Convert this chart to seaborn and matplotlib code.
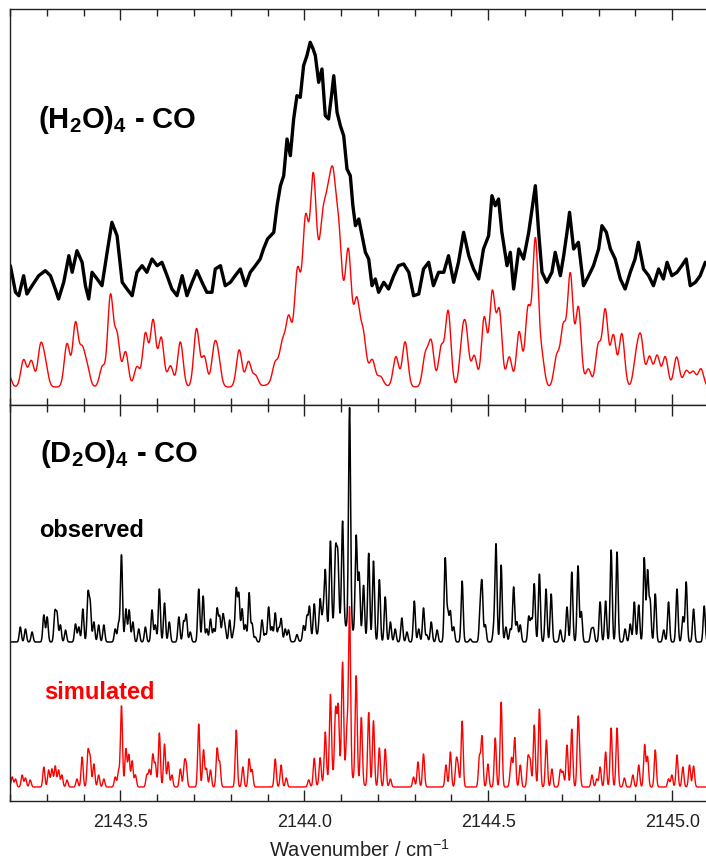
import numpy as np
import pandas as pd
import matplotlib
matplotlib.use("Agg")
import matplotlib.pyplot as plt
import seaborn as sns
from matplotlib.ticker import MultipleLocator, FormatStrFormatter

sns.set_theme(style="white")
plt.rcParams["font.family"] = ["Liberation Sans", "DejaVu Sans"]
plt.rcParams["mathtext.fontset"] = "custom"
plt.rcParams["mathtext.rm"] = "Liberation Sans"
plt.rcParams["mathtext.bf"] = "Liberation Sans:bold"
plt.rcParams["mathtext.default"] = "regular"

# ---------------- data ----------------
wn_min, wn_max = 2143.2, 2145.1

# Top panel, (H2O)4-CO observed trace: wavenumber / intensity (a.u.)
top_obs_wn = [2143.201, 2143.215, 2143.224, 2143.237, 2143.246, 2143.260, 2143.278, 2143.296, 2143.310, 2143.323,
              2143.332, 2143.346, 2143.360, 2143.369, 2143.382, 2143.396, 2143.405, 2143.414, 2143.423, 2143.437,
              2143.450, 2143.464, 2143.477, 2143.491, 2143.505, 2143.518, 2143.532, 2143.545, 2143.559, 2143.572,
              2143.586, 2143.600, 2143.613, 2143.627, 2143.640, 2143.654, 2143.668, 2143.681, 2143.695, 2143.708,
              2143.722, 2143.735, 2143.749, 2143.758, 2143.772, 2143.785, 2143.799, 2143.812, 2143.826, 2143.840,
              2143.853, 2143.867, 2143.880, 2143.889, 2143.900, 2143.917, 2143.926, 2143.935, 2143.944, 2143.953,
              2143.962, 2143.971, 2143.980, 2143.989, 2143.998, 2144.007, 2144.016, 2144.024, 2144.030, 2144.039,
              2144.048, 2144.057, 2144.066, 2144.075, 2144.080, 2144.089, 2144.098, 2144.107, 2144.116, 2144.125,
              2144.132, 2144.139, 2144.148, 2144.157, 2144.166, 2144.175, 2144.184, 2144.193, 2144.202, 2144.216,
              2144.229, 2144.243, 2144.256, 2144.270, 2144.284, 2144.297, 2144.311, 2144.324, 2144.338, 2144.351,
              2144.365, 2144.379, 2144.392, 2144.406, 2144.419, 2144.433, 2144.447, 2144.460, 2144.474, 2144.487,
              2144.501, 2144.510, 2144.519, 2144.528, 2144.537, 2144.551, 2144.560, 2144.569, 2144.583, 2144.596,
              2144.610, 2144.623, 2144.628, 2144.637, 2144.646, 2144.659, 2144.673, 2144.682, 2144.696, 2144.705,
              2144.714, 2144.721, 2144.732, 2144.745, 2144.759, 2144.773, 2144.786, 2144.800, 2144.809, 2144.821,
              2144.832, 2144.845, 2144.859, 2144.872, 2144.886, 2144.899, 2144.908, 2144.922, 2144.936, 2144.949,
              2144.963, 2144.976, 2144.986, 2144.999, 2145.013, 2145.026, 2145.038, 2145.049, 2145.063, 2145.076,
              2145.090]
top_obs_int = [139.3, 112.7, 109.3, 129.3, 111.0, 119.3, 129.3, 134.3, 129.3, 116.0,
               106.0, 122.7, 149.3, 132.7, 154.3, 142.7, 119.3, 106.0, 132.7, 126.0,
               119.3, 152.7, 182.7, 169.3, 122.7, 116.0, 109.3, 132.7, 139.3, 132.7,
               146.0, 139.3, 142.7, 129.3, 116.0, 109.3, 129.3, 109.3, 122.7, 134.3,
               122.7, 112.7, 112.7, 136.0, 139.3, 119.3, 122.7, 129.3, 136.0, 119.3,
               132.7, 139.3, 146.0, 156.0, 166.0, 172.7, 199.3, 219.3, 229.3, 266.0,
               249.3, 286.0, 309.3, 307.7, 339.3, 349.3, 362.7, 356.0, 349.3, 322.7,
               336.0, 289.3, 286.0, 312.7, 329.3, 292.7, 279.3, 269.3, 236.0, 229.3,
               199.3, 179.3, 186.0, 169.3, 152.7, 146.0, 119.3, 126.0, 112.7, 122.7,
               116.0, 129.3, 139.3, 141.0, 132.7, 109.3, 111.0, 136.0, 142.7, 119.3,
               132.7, 132.7, 149.3, 122.7, 142.7, 172.7, 149.3, 136.0, 126.0, 156.0,
               169.3, 209.3, 199.3, 206.0, 172.7, 139.3, 152.7, 116.0, 156.0, 146.0,
               172.7, 206.0, 219.3, 172.7, 132.7, 122.7, 132.7, 152.7, 129.3, 149.3,
               172.7, 192.7, 156.0, 162.7, 119.3, 129.3, 139.3, 156.0, 179.3, 172.7,
               156.0, 146.0, 126.0, 116.0, 132.7, 146.0, 162.7, 136.0, 129.3, 119.3,
               136.0, 126.0, 142.7, 129.3, 132.7, 139.3, 146.0, 119.3, 122.7, 129.3,
               142.7]

# Top panel, (H2O)4-CO simulated: line positions / heights above baseline
top_sim_base = 18.0
top_sim_wn = [2143.195, 2143.237, 2143.258, 2143.283, 2143.296, 2143.355, 2143.378, 2143.396, 2143.410, 2143.451,
              2143.473, 2143.491, 2143.514, 2143.545, 2143.568, 2143.589, 2143.611, 2143.636, 2143.663, 2143.707,
              2143.728, 2143.755, 2143.766, 2143.823, 2143.848, 2143.867, 2143.921, 2143.940, 2143.957, 2143.981,
              2144.003, 2144.024, 2144.051, 2144.065, 2144.078, 2144.093, 2144.120, 2144.143, 2144.160, 2144.185,
              2144.207, 2144.249, 2144.274, 2144.329, 2144.345, 2144.372, 2144.391, 2144.429, 2144.440, 2144.462,
              2144.489, 2144.511, 2144.530, 2144.557, 2144.584, 2144.608, 2144.628, 2144.645, 2144.686, 2144.704,
              2144.723, 2144.745, 2144.772, 2144.799, 2144.818, 2144.840, 2144.863, 2144.902, 2144.915, 2144.938,
              2144.959, 2144.981, 2145.012, 2145.038, 2145.057, 2145.078]
top_sim_h = [14, 27, 26, 39, 21, 43, 63, 35, 18, 20,
             90, 50, 35, 20, 53, 66, 49, 21, 45, 58,
             30, 35, 25, 37, 25, 11, 18, 29, 43, 66,
             88, 105, 45, 55, 85, 62, 77, 53, 35, 20,
             8, 30, 45, 31, 44, 39, 75, 40, 48, 31,
             69, 93, 75, 30, 55, 77, 145, 30, 30, 58,
             111, 79, 18, 41, 76, 51, 53, 28, 46, 30,
             31, 30, 30, 16, 15, 18]
top_sim_env_wn, top_sim_env_h, top_sim_env_w = [2144.054], [125], [0.055]

# Bottom panel, (D2O)4-CO observed: line positions / heights above baseline
bot_obs_base = 159.0
bot_obs_wn = [2143.228, 2143.242, 2143.260, 2143.292, 2143.301, 2143.322, 2143.328, 2143.337, 2143.351, 2143.378,
              2143.387, 2143.398, 2143.412, 2143.418, 2143.428, 2143.441, 2143.455, 2143.486, 2143.495, 2143.503,
              2143.515, 2143.524, 2143.534, 2143.550, 2143.568, 2143.586, 2143.595, 2143.606, 2143.620, 2143.633,
              2143.659,
              2143.672, 2143.679, 2143.690, 2143.713, 2143.725, 2143.735, 2143.745, 2143.754, 2143.763, 2143.770,
              2143.779, 2143.785, 2143.797, 2143.808, 2143.815, 2143.822, 2143.831, 2143.840, 2143.850, 2143.858,
              2143.867, 2143.885, 2143.894, 2143.903, 2143.912, 2143.921, 2143.930, 2143.937, 2143.948, 2143.957,
              2143.980, 2143.998, 2144.007, 2144.014, 2144.027, 2144.043, 2144.051, 2144.057, 2144.071, 2144.085,
              2144.091, 2144.104, 2144.123,
              2144.141, 2144.149, 2144.161, 2144.175, 2144.188, 2144.204, 2144.220, 2144.234, 2144.247, 2144.265,
              2144.279, 2144.299, 2144.311, 2144.324, 2144.333, 2144.345, 2144.361, 2144.383, 2144.390, 2144.397,
              2144.406, 2144.429, 2144.451, 2144.478, 2144.483, 2144.492, 2144.515, 2144.521, 2144.535, 2144.548,
              2144.560, 2144.569, 2144.578, 2144.587, 2144.610, 2144.617,
              2144.625, 2144.639, 2144.657, 2144.671, 2144.696, 2144.714, 2144.727, 2144.744, 2144.753, 2144.780,
              2144.786, 2144.804, 2144.819, 2144.834, 2144.850, 2144.872, 2144.886, 2144.897, 2144.909, 2144.924,
              2144.933, 2144.940, 2144.954, 2144.977, 2144.990, 2145.013, 2145.029, 2145.038, 2145.058, 2145.087]
bot_obs_h = [15, 13, 10, 27, 25, 29, 27, 17, 12, 18,
             15, 33, 47, 37, 20, 17, 17, 13, 18, 87,
             33, 32, 20, 13, 15, 32, 17, 53, 39, 20,
             25,
             20, 27, 10, 53, 46, 13, 23, 13, 33, 25,
             27, 13, 22, 10, 52, 47, 33, 17, 49, 18,
             5, 22, 8, 35, 15, 29, 13, 23, 13, 12,
             7, 15, 23, 32, 33, 34, 17, 58, 85, 72,
             67, 104, 222,
             98, 62, 53, 87, 80, 62, 45, 20, 13, 24,
             10, 41, 13, 34, 7, 20, 12, 83, 28, 30,
             15, 61, 3, 30, 55, 17, 13, 97, 77, 15,
             13, 55, 20, 17, 25, 22,
             58, 68, 53, 48, 12, 35, 70, 76, 30, 12,
             13, 40, 41, 92, 90, 13, 18, 40, 37, 84,
             70, 40, 48, 12, 40, 53, 25, 60, 33, 36]
bot_obs_env_wn, bot_obs_env_h, bot_obs_env_w = [2144.09], [18], [0.04]

# Bottom panel, (D2O)4-CO simulated
bot_sim_base = 14.0
bot_sim_wn = [2143.206, 2143.215, 2143.233, 2143.242, 2143.255, 2143.292, 2143.305, 2143.314, 2143.323, 2143.332,
              2143.341, 2143.355, 2143.382, 2143.396, 2143.412, 2143.418, 2143.428, 2143.441, 2143.455, 2143.486,
              2143.495, 2143.503, 2143.515, 2143.523, 2143.532, 2143.541, 2143.572, 2143.579, 2143.588, 2143.595,
              2143.606, 2143.620, 2143.630, 2143.640, 2143.663,
              2143.674, 2143.679, 2143.713, 2143.726, 2143.734, 2143.745, 2143.763, 2143.770, 2143.815, 2143.833,
              2143.850, 2143.858, 2143.921, 2143.937, 2143.951, 2144.012, 2144.027, 2144.043, 2144.057, 2144.071,
              2144.085, 2144.092, 2144.104, 2144.116, 2144.123,
              2144.141, 2144.155, 2144.175, 2144.188, 2144.204, 2144.220, 2144.234, 2144.297, 2144.309, 2144.324,
              2144.385, 2144.397, 2144.413, 2144.418, 2144.429, 2144.476, 2144.483, 2144.499, 2144.519, 2144.535,
              2144.560, 2144.564, 2144.572, 2144.587, 2144.608, 2144.614,
              2144.625, 2144.639, 2144.658, 2144.673, 2144.696, 2144.703, 2144.714, 2144.727, 2144.744, 2144.748,
              2144.782, 2144.795, 2144.804, 2144.819, 2144.834, 2144.850, 2144.870, 2144.893, 2144.909, 2144.925,
              2144.933, 2144.954, 2144.990, 2144.999, 2145.013, 2145.029, 2145.047, 2145.058]
bot_sim_h = [10, 8, 12, 9, 7, 20, 17, 18, 21, 17,
             12, 7, 8, 30, 35, 28, 23, 12, 8, 10,
             15, 81, 38, 32, 26, 12, 12, 17, 32, 23,
             54, 43, 25, 12, 18,
             22, 20, 63, 37, 18, 17, 38, 24, 57, 20,
             28, 17, 28, 22, 9, 7, 28, 27, 50, 84,
             65, 67, 111, 45, 168,
             106, 67, 74, 66, 39, 38, 8, 10, 25, 33,
             22, 35, 25, 18, 66, 30, 50, 23, 49, 85,
             10, 25, 49, 22, 29, 25,
             62, 78, 47, 18, 17, 15, 42, 58, 62, 22,
             12, 8, 20, 35, 59, 59, 9, 12, 22, 42,
             30, 37, 8, 12, 32, 20, 22, 21]
bot_sim_env_wn, bot_sim_env_h, bot_sim_env_w = [2144.10], [14], [0.03]

xtick_major, xtick_minor = 0.5, 0.1


# ---------------- line-shape rendering of the line lists ----------------
def render(grid, pos, hgt, sigma, base, env_pos=(), env_h=(), env_w=()):
    y = np.full_like(grid, base)
    for p, h in zip(pos, hgt):
        y += h * np.exp(-0.5 * ((grid - p) / sigma) ** 2)
    for p, h, w in zip(env_pos, env_h, env_w):
        y += h * np.exp(-0.5 * ((grid - p) / w) ** 2)
    return y


grid = np.arange(wn_min, wn_max + 1e-9, 0.0004)
top_sim = render(grid, top_sim_wn, top_sim_h, 0.0075, top_sim_base,
                 top_sim_env_wn, top_sim_env_h, top_sim_env_w)
bot_obs = render(grid, bot_obs_wn, bot_obs_h, 0.0028, bot_obs_base,
                 bot_obs_env_wn, bot_obs_env_h, bot_obs_env_w)
bot_sim = render(grid, bot_sim_wn, bot_sim_h, 0.0028, bot_sim_base,
                 bot_sim_env_wn, bot_sim_env_h, bot_sim_env_w)

df_top_obs = pd.DataFrame({"wn": top_obs_wn, "I": top_obs_int})
df_top_sim = pd.DataFrame({"wn": grid, "I": top_sim})
df_bot_obs = pd.DataFrame({"wn": grid, "I": bot_obs})
df_bot_sim = pd.DataFrame({"wn": grid, "I": bot_sim})

# ---------------- figure ----------------
W, H = 706, 862
fig = plt.figure(figsize=(W / 100, H / 100), dpi=100)
ax1 = fig.add_axes([10 / W, 1 - 406 / H, 699 / W, 396 / H])
ax2 = fig.add_axes([10 / W, 1 - 802 / H, 699 / W, 396 / H])

sns.lineplot(data=df_top_obs, x="wn", y="I", ax=ax1, color="black", lw=2.4,
             estimator=None, sort=False)
sns.lineplot(data=df_top_sim, x="wn", y="I", ax=ax1, color="#ff0000", lw=1.0,
             estimator=None, sort=False)
sns.lineplot(data=df_bot_obs, x="wn", y="I", ax=ax2, color="black", lw=1.1,
             estimator=None, sort=False)
sns.lineplot(data=df_bot_sim, x="wn", y="I", ax=ax2, color="#ff0000", lw=1.0,
             estimator=None, sort=False)

for ax in (ax1, ax2):
    ax.set_xlim(wn_min, wn_max)
    ax.set_ylim(0, 396)
    ax.set_yticks([])
    ax.set_ylabel("")
    ax.set_xlabel("")
    ax.xaxis.set_major_locator(MultipleLocator(xtick_major))
    ax.xaxis.set_minor_locator(MultipleLocator(xtick_minor))
    ax.xaxis.set_major_formatter(FormatStrFormatter("%.1f"))
    ax.tick_params(axis="x", which="both", direction="in", top=True, bottom=True,
                   color="#222222", width=1.0)
    ax.tick_params(axis="x", which="major", length=8)
    ax.tick_params(axis="x", which="minor", length=5)
    for s in ax.spines.values():
        s.set_linewidth(1.0)
        s.set_color("#222222")

ax1.tick_params(axis="x", labelbottom=False)
ax2.tick_params(axis="x", which="major", labelsize=13, pad=9, labelcolor="#222222")
ax2.set_xlabel("Wavenumber / cm$^{-1}$", fontsize=14.5, color="#222222")
ax2.xaxis.set_label_coords(0.5, -0.092)
ax2.xaxis.label.set_va("top")

ax1.text(0.040, 0.702, r"(H$_\mathbf{2}$O)$_\mathbf{4}$ - CO", transform=ax1.transAxes,
         fontsize=21, fontweight="bold", va="baseline", ha="left", color="black")
ax2.text(0.043, 0.859, r"(D$_\mathbf{2}$O)$_\mathbf{4}$ - CO", transform=ax2.transAxes,
         fontsize=21, fontweight="bold", va="baseline", ha="left", color="black")
ax2.text(0.0415, 0.669, "observed", transform=ax2.transAxes, fontsize=17,
         fontweight="bold", va="baseline", ha="left", color="black")
ax2.text(0.0486, 0.260, "simulated", transform=ax2.transAxes, fontsize=17,
         fontweight="bold", va="baseline", ha="left", color="#ff0000")

fig.savefig("out.png", dpi=100)
